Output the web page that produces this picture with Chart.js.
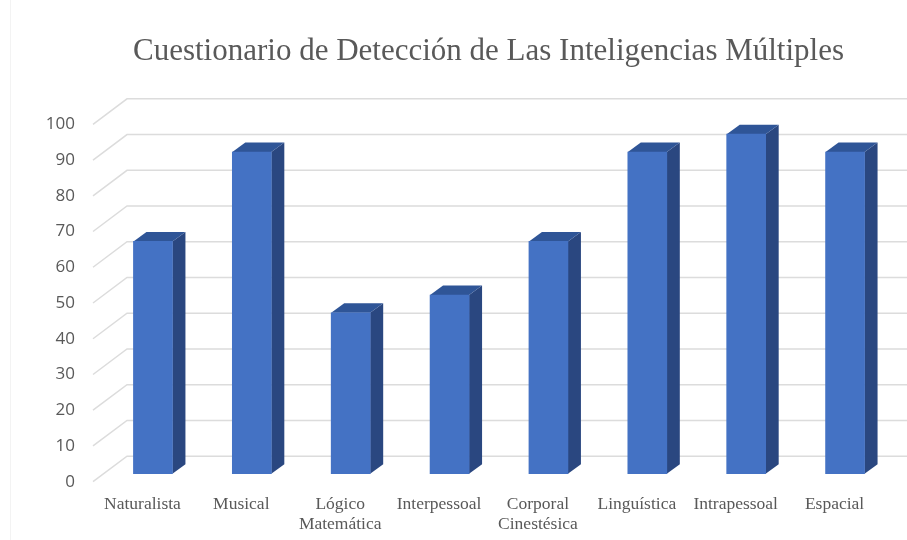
<!DOCTYPE html>
<html>
<head>
<meta charset="utf-8">
<style>
  html, body { margin: 0; padding: 0; background: #fff; }
  canvas { display: block; }
</style>
<script src="https://cdn.jsdelivr.net/npm/chart.js@4"></script>
</head>
<body>
<canvas id="myChart" width="907" height="540"></canvas>
<script>
var categories = ['Naturalista', 'Musical', ['Lógico', 'Matemática'], 'Interpessoal', ['Corporal', 'Cinestésica'], 'Linguística', 'Intrapessoal', 'Espacial'];
var puntajes = [65, 90, 45, 50, 65, 90, 95, 90];
var yTicks = [0, 10, 20, 30, 40, 50, 60, 70, 80, 90, 100];

// fake 3D look: back wall grid, and bars pushed into the floor
var wallDx = 34, wallDy = -25.5;
var barDx = 10.5, barDy = -8;
var sideDx = 13, sideDy = -9.5;

var wall3d = {
    id: 'wall3d',
    beforeDatasetsDraw: function (chart) {
        var ctx = chart.ctx;
        var area = chart.chartArea;
        var yScale = chart.scales.y;
        ctx.save();
        // faint page edge from the source image
        ctx.strokeStyle = '#f3f3f3';
        ctx.lineWidth = 1;
        ctx.beginPath();
        ctx.moveTo(10.5, 0);
        ctx.lineTo(10.5, 540);
        ctx.stroke();

        ctx.strokeStyle = '#dcdcdc';
        ctx.lineWidth = 1.5;
        yTicks.forEach(function (v) {
            var y = yScale.getPixelForValue(v);
            ctx.beginPath();
            ctx.moveTo(area.left, y);
            ctx.lineTo(area.left + wallDx, y + wallDy);
            ctx.lineTo(chart.width, y + wallDy);
            ctx.stroke();
        });
        ctx.restore();

        // bars get drawn in the shifted space, restored after
        ctx.save();
        ctx.translate(barDx, barDy);
        chart.getDatasetMeta(0).data.forEach(function (bar) {
            var left = bar.x - bar.width / 2;
            var right = bar.x + bar.width / 2;
            ctx.fillStyle = '#2a4780';
            ctx.beginPath();
            ctx.moveTo(right, bar.base);
            ctx.lineTo(right + sideDx, bar.base + sideDy);
            ctx.lineTo(right + sideDx, bar.y + sideDy);
            ctx.lineTo(right, bar.y);
            ctx.closePath();
            ctx.fill();
            ctx.fillStyle = '#2f5597';
            ctx.beginPath();
            ctx.moveTo(left, bar.y);
            ctx.lineTo(left + sideDx, bar.y + sideDy);
            ctx.lineTo(right + sideDx, bar.y + sideDy);
            ctx.lineTo(right, bar.y);
            ctx.closePath();
            ctx.fill();
        });
    },
    afterDatasetsDraw: function (chart) {
        chart.ctx.restore();
    }
};

var ctx = document.getElementById('myChart').getContext('2d');
var myChart = new Chart(ctx, {
    type: 'bar',
    data: {
        labels: categories,
        datasets: [{
            label: 'Puntaje',
            data: puntajes,
            backgroundColor: '#4472c4',
            barThickness: 39,
            clip: false
        }]
    },
    options: {
        responsive: false,
        animation: false,
        layout: { padding: { left: 0, right: 23, top: 0, bottom: 0 } },
        plugins: {
            legend: { display: false },
            tooltip: { enabled: false },
            title: {
                display: true,
                text: 'Cuestionario de Detección de Las Inteligencias Múltiples',
                color: '#595959',
                fullSize: false,
                font: { family: '"Liberation Serif"', size: 31, weight: 'normal', lineHeight: 1.2 },
                padding: { top: 33, bottom: 54.1 }
            }
        },
        scales: {
            x: {
                grid: { display: false, drawTicks: false },
                border: { display: false },
                afterFit: function (scale) { scale.height = 58.3; },
                ticks: {
                    color: '#595959',
                    padding: 13,
                    autoSkip: false,
                    maxRotation: 0,
                    font: { family: '"Liberation Serif"', size: 17.5, lineHeight: 1.14 }
                }
            },
            y: {
                min: 0,
                max: 100,
                grid: { display: false, drawTicks: false },
                border: { display: false },
                afterFit: function (scale) { scale.width = 93; },
                ticks: {
                    stepSize: 10,
                    color: '#595959',
                    padding: 18,
                    font: { family: '"Open Sans"', size: 17 }
                }
            }
        }
    },
    plugins: [wall3d]
});
</script>
</body>
</html>
